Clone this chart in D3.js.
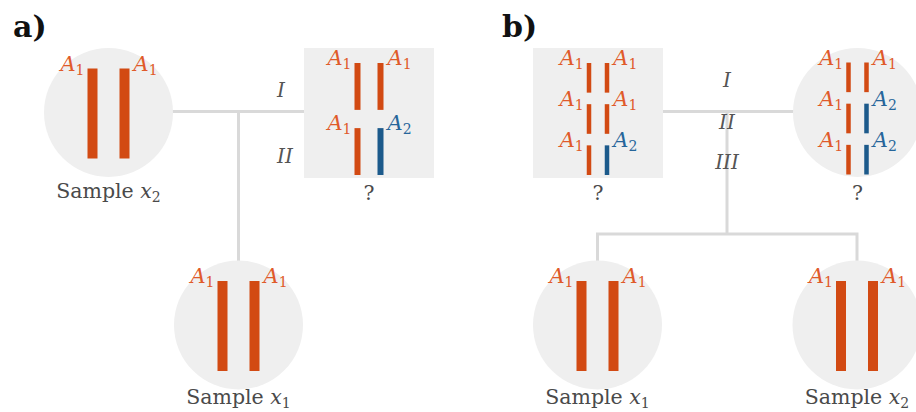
<!DOCTYPE html>
<html>
<head>
<meta charset="utf-8">
<script src="https://cdn.jsdelivr.net/npm/d3@7"></script>
<style>
  html, body { margin: 0; padding: 0; background: #fff; }
  svg { display: block; font-family: "DejaVu Serif", serif; }
  .panel-label { font-weight: bold; font-size: 30px; fill: #111; }
  .caption { font-size: 20.5px; fill: #4a4a4a; }
  .branch { font-size: 20px; font-style: italic; fill: #555; }
  .allele { font-size: 21px; font-style: italic; }
</style>
</head>
<body>
<div id="chart"></div>
<script>
// ---- data ----
const PANEL_LABELS = ["a)", "b)"];
const BRANCHES_A = ["I", "II"];
const BRANCHES_B = ["I", "II", "III"];

// allele index per chromosome, one row per locus
const A_SAMPLE_X2 = [[1, 1]];
const A_SAMPLE_X1 = [[1, 1]];
const A_QUERY = [[1, 1], [1, 2]];
const B_QUERY_BOX = [[1, 1], [1, 1], [1, 2]];
const B_QUERY_CIRCLE = [[1, 1], [1, 2], [1, 2]];
const B_SAMPLE_X1 = [[1, 1]];
const B_SAMPLE_X2 = [[1, 1]];

const CAPTION_X1 = ["Sample ", "x", "1"];
const CAPTION_X2 = ["Sample ", "x", "2"];
const CAPTION_Q = ["?"];

const W = 916, H = 412;
const R = 64.5, BOX = 130;
const LINE = "#d9d9d9", FILL = "#efefef";
const alleleColor = d3.scaleOrdinal().domain([1, 2]).range(["#d24a13", "#1c5a8b"]);
const labelColor = d3.scaleOrdinal().domain([1, 2]).range(["#e05a2a", "#26659a"]);

const svg = d3.select("#chart").append("svg")
  .attr("width", W).attr("height", H);

const gLines = svg.append("g");
const gNodes = svg.append("g");
const gText = svg.append("g");

function link(pts) {
  gLines.append("path")
    .attr("d", d3.line()(pts))
    .attr("fill", "none")
    .attr("stroke", LINE)
    .attr("stroke-width", 3);
}

function caption(g, x, y, parts) {
  const t = g.append("text").attr("class", "caption")
    .attr("x", x).attr("y", y).attr("text-anchor", "middle");
  if (parts.length === 1) { t.text(parts[0]); return; }
  t.append("tspan").text(parts[0]);
  t.append("tspan").style("font-style", "italic").text(parts[1]);
  t.append("tspan").attr("dy", 4).style("font-size", "14px").text(parts[2]);
}

function alleleLabel(g, x, y, idx, anchor) {
  const t = g.append("text").attr("class", "allele")
    .attr("x", x).attr("y", y)
    .attr("text-anchor", anchor)
    .attr("fill", labelColor(idx));
  t.append("tspan").text("A");
  t.append("tspan").attr("dy", 4).style("font-size", "14px")
    .style("font-style", "normal").text(idx);
}

function node(opts) {
  const { cx, cy, shape, rows, cap, capDy, barW, off, y0, y1 } = opts;
  const g = gNodes.append("g");
  if (shape === "circle") {
    g.append("circle").attr("cx", cx).attr("cy", cy).attr("r", R).attr("fill", FILL);
  } else {
    g.append("rect").attr("x", cx - BOX / 2).attr("y", cy - BOX / 2)
      .attr("width", BOX).attr("height", BOX).attr("fill", FILL);
  }
  const y = d3.scaleBand().domain(d3.range(rows.length)).range([y0, y1])
    .paddingInner(rows.length > 1 ? 0.28 : 0);
  const x = d3.scalePoint().domain([0, 1]).range([cx - off, cx + off]);

  rows.forEach((pair, i) => {
    pair.forEach((a, j) => {
      g.append("rect")
        .attr("x", x(j) - barW / 2)
        .attr("y", y(i))
        .attr("width", barW)
        .attr("height", y.bandwidth())
        .attr("fill", alleleColor(a));
      const lx = j === 0 ? x(j) - barW / 2 - 3 : x(j) + barW / 2 + 4;
      alleleLabel(g, lx, y(i) + 2, a, j === 0 ? "end" : "start");
    });
  });
  caption(g, cx, cy + capDy, cap);
}

function big(cx, cy, rows, cap, capDy) {
  node({ cx, cy, shape: "circle", rows, cap, capDy, barW: 10, off: 16, y0: cy - 44, y1: cy + 46 });
}
function small(cx, cy, shape, rows, barW, off) {
  node({ cx, cy, shape, rows, cap: CAPTION_Q, capDy: 87, barW, off, y0: cy - 50, y1: cy + 62 });
}

// ---- panel a ----
const LY = 111.5;
link([[108.5, LY], [369, LY]]);
link([[238.5, LY], [238.5, 325]]);
big(108.5, 112.5, A_SAMPLE_X2, CAPTION_X2, 85);
small(369, 113, "rect", A_QUERY, 6, 11.5);
big(238.5, 325, A_SAMPLE_X1, CAPTION_X1, 79);

gText.selectAll(".branch-a").data(BRANCHES_A).join("text")
  .attr("class", "branch branch-a")
  .attr("x", 277).attr("y", (d, i) => [97, 163][i])
  .text(d => d);

// ---- panel b ----
const JY = 234, JX = 727;
link([[598, LY], [857.5, LY]]);
link([[JX, LY], [JX, JY]]);
link([[597.5, 325], [597.5, JY], [857, JY], [857, 325]]);
small(598, 113, "rect", B_QUERY_BOX, 4.5, 9);
small(857.5, 112.5, "circle", B_QUERY_CIRCLE, 4.5, 9);
big(597.5, 325, B_SAMPLE_X1, CAPTION_X1, 79);
big(857, 325, B_SAMPLE_X2, CAPTION_X2, 79);

gText.selectAll(".branch-b").data(BRANCHES_B).join("text")
  .attr("class", "branch branch-b")
  .attr("x", JX).attr("y", (d, i) => [87, 129, 169][i])
  .attr("text-anchor", "middle")
  .text(d => d);

// ---- panel letters ----
gText.selectAll(".panel-label").data(PANEL_LABELS).join("text")
  .attr("class", "panel-label")
  .attr("x", (d, i) => [13, 502][i]).attr("y", 37)
  .text(d => d);
</script>
</body>
</html>
